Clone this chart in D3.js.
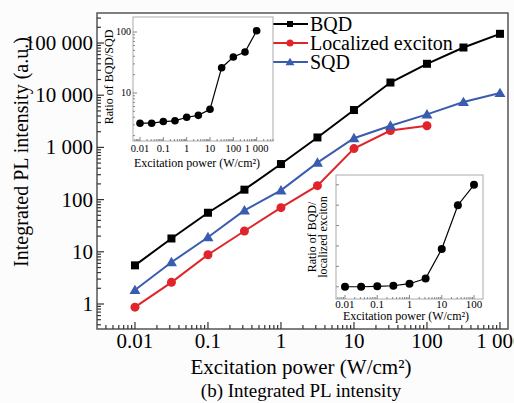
<!DOCTYPE html>
<html lang="en">
<head>
<meta charset="utf-8">
<style>
  body { margin: 0; background: #fdfcfd; }
  svg { font-family: 'Liberation Serif', 'Times New Roman', serif; }
  .series { fill: none; stroke-width: 2px; }
</style>
</head>
<body>
<svg width="514" height="403"></svg>
<script src="https://d3js.org/d3.v7.min.js"></script>
<script>
// main chart data
const power = [0.01, 0.0316, 0.1, 0.316, 1, 3.16, 10, 31.6, 100, 316, 1000];
const bqd = [5.5, 18, 56, 155, 480, 1550, 5200, 17500, 40000, 82000, 150000];
const localized = [0.87, 2.6, 8.8, 25, 70, 185, 950, 2100, 2600];
const sqd = [1.85, 6.3, 19, 62, 150, 510, 1500, 2600, 4300, 7400, 11000];
const yTickVals = [1, 10, 100, 1000, 10000, 100000];
const yTickText = ["1", "10", "100", "1 000", "10 000", "100 000"];
const xTickVals = [0.01, 0.1, 1, 10, 100, 1000];
const xTickText = ["0.01", "0.1", "1", "10", "100", "1 000"];

// inset 1: ratio BQD/SQD
const ratioSqd = [3.2, 3.2, 3.4, 3.5, 4.0, 4.3, 5.4, 26, 39, 47, 105];
const inset1XText = ["0.01", "0.1", "1", "10", "100", "1 000"];
// inset 2: ratio BQD/localized exciton (unlabelled linear axis)
const power2 = [0.01, 0.0316, 0.1, 0.316, 1, 3.16, 10, 31.6, 100];
const ratioLoc = [0, 0, 0.02, 0.05, 0.15, 0.4, 1.85, 4.0, 5.0];
const inset2XText = ["0.01", "0.1", "1", "10", "100"];

const series = [
  {name: "BQD", values: bqd, color: "#000000", shape: "square"},
  {name: "Localized exciton", values: localized, color: "#e0242b", shape: "circle"},
  {name: "SQD", values: sqd, color: "#3a5cb0", shape: "triangle"}
];

const svg = d3.select("svg");

const x = d3.scaleLog().domain([Math.pow(10, -2.52), Math.pow(10, 3.11)]).range([97, 508]);
const y = d3.scaleLog().domain([Math.pow(10, -0.479), Math.pow(10, 5.575)]).range([329, 13]);

// frame
svg.append("rect").attr("x", 97).attr("y", 13).attr("width", 411).attr("height", 316)
  .attr("fill", "#fff").attr("stroke", "#555").attr("stroke-width", 1.5);

// minor log ticks helper
function logMinor(lo, hi) {
  const out = [];
  for (let e = Math.floor(Math.log10(lo)); e <= Math.ceil(Math.log10(hi)); e++) {
    for (let m = 1; m < 10; m++) {
      const v = m * Math.pow(10, e);
      if (v >= lo && v <= hi) out.push({v: v, major: m === 1});
    }
  }
  return out;
}

const main = svg.append("g");
logMinor(x.domain()[0], x.domain()[1]).forEach(t => {
  main.append("line").attr("x1", x(t.v)).attr("x2", x(t.v))
    .attr("y1", 329).attr("y2", 329 - (t.major ? 7 : 4))
    .attr("stroke", "#333").attr("stroke-width", 1.2);
});
logMinor(y.domain()[0], y.domain()[1]).forEach(t => {
  main.append("line").attr("y1", y(t.v)).attr("y2", y(t.v))
    .attr("x1", 97).attr("x2", 97 + (t.major ? 7 : 4))
    .attr("stroke", "#333").attr("stroke-width", 1.2);
});
xTickVals.forEach((v, i) => {
  main.append("text").attr("x", x(v)).attr("y", 348).attr("text-anchor", "middle")
    .attr("font-size", 21).text(xTickText[i]);
});
yTickVals.forEach((v, i) => {
  main.append("text").attr("x", 93).attr("y", y(v) + 7).attr("text-anchor", "end")
    .attr("font-size", 21).text(yTickText[i]);
});

main.append("text").attr("x", 301).attr("y", 374).attr("text-anchor", "middle")
  .attr("font-size", 21).text("Excitation power (W/cm²)");
main.append("text").attr("x", 301).attr("y", 397).attr("text-anchor", "middle")
  .attr("font-size", 19).text("(b) Integrated PL intensity");
main.append("text").attr("transform", "translate(28,152) rotate(-90)")
  .attr("text-anchor", "middle").attr("font-size", 20).text("Integrated PL intensity (a.u.)");

function marker(g, shape, cx, cy, color, s) {
  if (shape === "square") {
    g.append("rect").attr("x", cx - s / 2).attr("y", cy - s / 2).attr("width", s).attr("height", s).attr("fill", color);
  } else if (shape === "circle") {
    g.append("circle").attr("cx", cx).attr("cy", cy).attr("r", s / 2).attr("fill", color);
  } else {
    const h = s * 0.9;
    g.append("path").attr("d", `M${cx},${cy - h * 0.6}L${cx + s / 2 + 0.5},${cy + h * 0.45}L${cx - s / 2 - 0.5},${cy + h * 0.45}Z`).attr("fill", color);
  }
}

const line = d3.line().x(d => x(d[0])).y(d => y(d[1]));
series.forEach(s => {
  const pts = s.values.map((v, i) => [power[i], v]);
  main.append("path").attr("class", "series").attr("d", line(pts)).attr("stroke", s.color);
  pts.forEach(p => marker(main, s.shape, x(p[0]), y(p[1]), s.color, s.shape === "circle" ? 9 : (s.shape === "square" ? 8 : 10)));
});

// legend
series.forEach((s, i) => {
  const ly = 24 + i * 19;
  main.append("line").attr("x1", 273).attr("x2", 308).attr("y1", ly).attr("y2", ly)
    .attr("stroke", s.color).attr("stroke-width", 2);
  marker(main, s.shape, 290, ly, s.color, s.shape === "circle" ? 7 : (s.shape === "square" ? 6 : 8));
  main.append("text").attr("x", 310).attr("y", ly + 6.5).attr("font-size", 20).text(s.name);
});

// inset 1
const in1 = svg.append("g");
const x1 = d3.scaleLog().domain([Math.pow(10, -2.3), Math.pow(10, 3.7)]).range([133, 273]);
const y1 = d3.scaleLog().domain([Math.pow(10, 0.213), Math.pow(10, 2.246)]).range([141, 17]);
in1.append("rect").attr("x", 133).attr("y", 17).attr("width", 140).attr("height", 124)
  .attr("fill", "#fff").attr("stroke", "#aaa").attr("stroke-width", 1);
logMinor(y1.domain()[0], y1.domain()[1]).forEach(t => {
  in1.append("line").attr("y1", y1(t.v)).attr("y2", y1(t.v)).attr("x1", 133).attr("x2", 133 + (t.major ? 4 : 2))
    .attr("stroke", "#888");
});
logMinor(x1.domain()[0], x1.domain()[1]).forEach(t => {
  in1.append("line").attr("x1", x1(t.v)).attr("x2", x1(t.v)).attr("y1", 141).attr("y2", 141 - (t.major ? 4 : 2))
    .attr("stroke", "#888");
});
[10, 100].forEach(v => {
  in1.append("text").attr("x", 131).attr("y", y1(v) + 3).attr("text-anchor", "end")
    .attr("font-size", 10).text(v);
});
xTickVals.forEach((v, i) => {
  in1.append("text").attr("x", x1(v)).attr("y", 152).attr("text-anchor", "middle")
    .attr("font-size", 10.5).text(inset1XText[i]);
});
in1.append("text").attr("x", 197).attr("y", 167).attr("text-anchor", "middle")
  .attr("font-size", 12).text("Excitation power (W/cm²)");
in1.append("text").attr("transform", "translate(113,77) rotate(-90)").attr("text-anchor", "middle")
  .attr("font-size", 12).text("Ratio of BQD/SQD");
const line1 = d3.line().x(d => x1(d[0])).y(d => y1(d[1]));
const pts1 = ratioSqd.map((v, i) => [power[i], v]);
in1.append("path").attr("d", line1(pts1)).attr("fill", "none").attr("stroke", "#000").attr("stroke-width", 1.2);
pts1.forEach(p => in1.append("circle").attr("cx", x1(p[0])).attr("cy", y1(p[1])).attr("r", 3.8).attr("fill", "#000"));

// inset 2
const in2 = svg.append("g");
const x2 = d3.scaleLog().domain([Math.pow(10, -2.279), Math.pow(10, 2.279)]).range([336, 483]);
const y2 = d3.scaleLinear().domain([-0.6, 5.48]).range([299, 175]);
in2.append("rect").attr("x", 336).attr("y", 175).attr("width", 147).attr("height", 124)
  .attr("fill", "#fff").attr("stroke", "#aaa").attr("stroke-width", 1);
d3.range(0, 6).forEach(v => {
  in2.append("line").attr("y1", y2(v)).attr("y2", y2(v)).attr("x1", 336).attr("x2", 339).attr("stroke", "#888");
});
logMinor(x2.domain()[0], x2.domain()[1]).forEach(t => {
  in2.append("line").attr("x1", x2(t.v)).attr("x2", x2(t.v)).attr("y1", 299).attr("y2", 299 - (t.major ? 4 : 2))
    .attr("stroke", "#888");
});
[0.01, 0.1, 1, 10, 100].forEach((v, i) => {
  in2.append("text").attr("x", x2(v)).attr("y", 308).attr("text-anchor", "middle")
    .attr("font-size", 11).text(inset2XText[i]);
});
in2.append("text").attr("x", 406).attr("y", 320).attr("text-anchor", "middle")
  .attr("font-size", 12).text("Excitation power (W/cm²)");
in2.append("text").attr("transform", "translate(316,237) rotate(-90)").attr("text-anchor", "middle")
  .attr("font-size", 12).text("Ratio of BQD/");
in2.append("text").attr("transform", "translate(327,237) rotate(-90)").attr("text-anchor", "middle")
  .attr("font-size", 12).text("localized exciton");
const line2 = d3.line().x(d => x2(d[0])).y(d => y2(d[1]));
const pts2 = ratioLoc.map((v, i) => [power2[i], v]);
in2.append("path").attr("d", line2(pts2)).attr("fill", "none").attr("stroke", "#000").attr("stroke-width", 1.2);
pts2.forEach(p => in2.append("circle").attr("cx", x2(p[0])).attr("cy", y2(p[1])).attr("r", 4).attr("fill", "#000"));
</script>
</body>
</html>
